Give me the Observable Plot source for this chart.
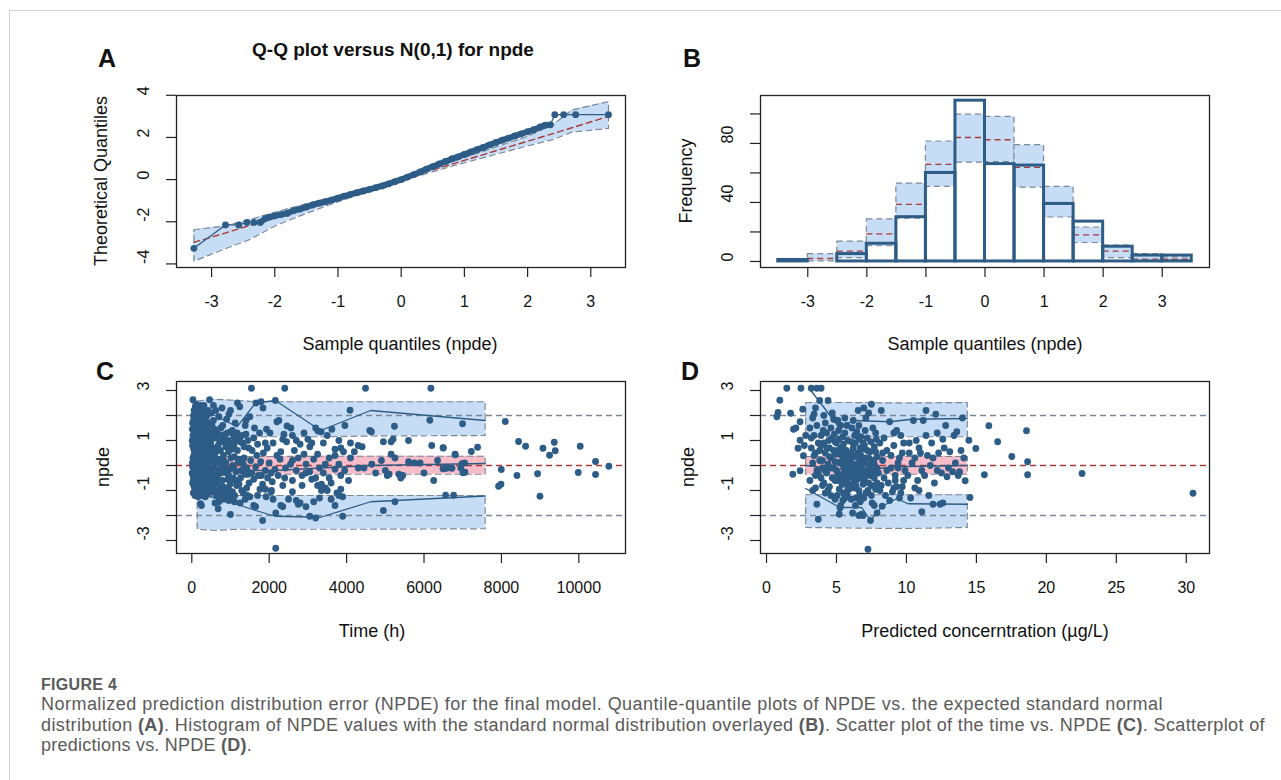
<!DOCTYPE html>
<html><head><meta charset="utf-8">
<script src="https://cdn.jsdelivr.net/npm/d3@7"></script>
<script src="https://cdn.jsdelivr.net/npm/@observablehq/plot@0.6"></script>
<style>
body{margin:0;background:#fff;}
#page{position:relative;width:1281px;height:780px;overflow:hidden;background:#fff;font-family:"Liberation Sans",Arial,Helvetica,sans-serif;color:#111;}
.abs{position:absolute;white-space:nowrap;}
.c{transform:translate(-50%,-50%);}
.rot{transform:translate(-50%,-50%) rotate(-90deg);}
.letter{font-weight:700;font-size:25px;}
.atitle{font-size:18px;}
.cap{font-family:"Liberation Sans",Arial,sans-serif;color:#5a5a5a;font-size:18px;line-height:normal;}
</style></head><body><div id="page"></div>
<script>
// ---------- Panel A: Q-Q plot ----------
const qqSample = [-3.28,-2.78,-2.57,-2.44,-2.33,-2.23,-2.15,-2.08,-2.0,-1.9,-1.8,-1.7,-1.6,-1.5,-1.4,-1.3,-1.2,-1.1,-1.0,-0.9,-0.8,-0.7,-0.6,-0.5,-0.4,-0.3,-0.2,-0.1,0,0.1,0.2,0.3,0.4,0.5,0.6,0.7,0.8,0.9,1.0,1.1,1.2,1.3,1.4,1.5,1.6,1.7,1.8,1.9,2.0,2.1,2.2,2.28,2.36,2.43,2.57,2.76,3.28];
const qqNpde   = [-3.26,-2.15,-2.15,-2.03,-2.03,-2.03,-1.85,-1.78,-1.72,-1.66,-1.6,-1.47,-1.4,-1.3,-1.2,-1.12,-1.05,-0.97,-0.88,-0.78,-0.7,-0.62,-0.54,-0.46,-0.38,-0.3,-0.2,-0.1,0.0,0.12,0.24,0.36,0.5,0.62,0.74,0.86,0.98,1.08,1.2,1.31,1.42,1.53,1.65,1.76,1.87,1.97,2.07,2.17,2.27,2.37,2.5,2.58,2.6,3.08,3.08,3.08,3.08];
const qqBandX  = [-3.28,-2.8,-2.4,-2.0,-1.5,-1.0,-0.5,0,0.5,1.0,1.5,2.0,2.4,2.7,3.28];
const qqBandLo = [-3.87,-3.3,-2.85,-2.2,-1.6,-1.05,-0.55,-0.07,0.38,0.8,1.2,1.6,1.9,2.25,2.43];
const qqBandMd = [-2.98,-2.55,-2.18,-1.82,-1.37,-0.91,-0.46,0,0.46,0.91,1.37,1.82,2.18,2.46,3.0];
const qqBandHi = [-2.38,-2.2,-1.9,-1.55,-1.15,-0.76,-0.37,0.07,0.55,1.04,1.55,2.05,2.6,3.3,3.7];

// ---------- Panel B: histogram ----------
const histStart = [-3.5,-3,-2.5,-2,-1.5,-1,-0.5,0,0.5,1,1.5,2,2.5,3];
const histObs   = [1,0,5,12,30,60,109,66,65,39,27,10,4,4];
const histLo    = [0,0,2.3,10.3,29,50.6,67,67.4,50,29.8,12.5,2.3,0,0.5];
const histMed   = [0.5,2,7,18.7,38.7,65.8,84,82.5,63.8,39,18,7,1.6,1.5];
const histHi    = [1,5,13.4,28.5,52.8,81.3,99.5,98,78.8,50.6,23,10.7,5,2.7];

// ---------- Panel C: npde vs time ----------
const cLineX  = [140,600,1170,1650,2160,3330,4620,7580];
const cObsUp  = [2.3,2.0,1.55,2.5,2.6,1.4,2.2,1.8];
const cObsMed = [0.05,-0.1,-0.2,-0.2,-0.2,-0.1,0.0,0.08];
const cObsLow = [-1.1,-1.3,-1.55,-1.8,-2.03,-2.07,-1.45,-1.22];
const cUpHi   = [2.58,2.65,2.6,2.55,2.55,2.55,2.55,2.55];
const cUpLo   = [1.15,1.2,1.15,1.15,1.15,1.15,1.18,1.2];
const cMedHi  = [0.35,0.36,0.36,0.36,0.36,0.37,0.37,0.37];
const cMedLo  = [-0.35,-0.35,-0.35,-0.35,-0.35,-0.35,-0.35,-0.35];
const cLowHi  = [-1.15,-1.2,-1.2,-1.2,-1.2,-1.2,-1.2,-1.2];
const cLowLo  = [-2.55,-2.6,-2.55,-2.55,-2.55,-2.55,-2.55,-2.53];
const scatterC = [
[30,2.63],[60,2.2],[90,2.35],[110,2.45],[140,2.1],[160,2.3],[190,2.2],[220,2.4],[250,2.0],[300,2.1],[350,1.9],[460,2.63],[420,2.2],[380,1.95],
[20,1.7],[50,1.85],[80,1.5],[120,1.65],[150,1.8],[180,1.4],[210,1.6],[240,1.75],[280,1.5],[320,1.3],[360,1.6],[400,1.45],[440,1.7],
[30,1.2],[60,1.35],[90,1.1],[120,1.25],[150,0.95],[180,1.15],[210,1.3],[240,1.05],[270,1.2],[300,0.9],[340,1.1],[380,1.25],[420,0.95],[470,1.15],
[20,0.8],[50,0.65],[80,0.9],[110,0.75],[140,0.55],[170,0.85],[200,0.7],[230,0.5],[260,0.8],[290,0.6],[330,0.75],[370,0.45],[410,0.65],[450,0.85],
[30,0.3],[60,0.45],[90,0.2],[120,0.35],[150,0.15],[180,0.4],[210,0.25],[240,0.05],[270,0.3],[310,0.15],[350,0.35],[390,0.1],[430,0.25],[470,0.4],
[20,-0.05],[50,0.0],[80,-0.15],[110,0.05],[140,-0.2],[170,-0.1],[200,0.0],[230,-0.25],[260,-0.05],[300,-0.3],[340,-0.1],[380,-0.2],[420,0.0],[460,-0.15],
[30,-0.4],[60,-0.35],[90,-0.5],[120,-0.3],[150,-0.55],[180,-0.45],[210,-0.6],[240,-0.4],[280,-0.5],[320,-0.65],[360,-0.4],[400,-0.55],[440,-0.35],
[20,-0.7],[50,-0.8],[80,-0.65],[110,-0.9],[140,-0.75],[170,-0.95],[200,-0.8],[230,-0.7],[260,-1.0],[300,-0.85],[340,-0.95],[380,-0.75],[420,-0.9],[460,-1.05],
[40,-1.1],[80,-1.2],[120,-1.05],[160,-1.25],[200,-1.15],[250,-1.2],[300,-1.1],[350,-1.25],[400,-1.15],
[10,1.0],[40,0.9],[70,0.7],[100,0.55],[130,0.4],[160,0.2],[190,0.1],[220,-0.1],[250,-0.3],[280,-0.45],[310,-0.6],[340,-0.8],[370,-0.95],[400,-1.05],[430,-0.7],[460,-0.5],[490,-0.25],
[10,-0.3],[40,-0.6],[70,-0.9],[100,-1.1],[130,0.1],[160,0.6],[190,0.95],[220,1.4],[250,1.55],[280,1.85],[310,1.7],[340,1.45],[370,1.05],[400,0.8],[430,0.5],[460,0.6],[490,0.9],
[15,1.45],[45,2.0],[75,1.95],[105,2.15],[135,1.3],[165,1.05],[195,1.9],[225,2.25],[255,2.3],[285,2.05],[315,2.4],
[15,0.1],[45,0.25],[75,-0.3],[105,-0.55],[135,-0.95],[165,-1.1],[195,-0.35],[225,0.15],[255,0.55],[285,0.15],[315,-0.15],[345,0.55],[375,0.2],[405,0.35],[435,-0.5],[465,-0.8],[495,-1.0],
[225,-1.53],[250,-1.6],[681,-1.73],[999,-1.96],
[500,2.1],[560,1.8],[620,2.2],[700,1.95],[800,1.6],[900,1.85],[960,2.05],[1050,1.4],[1120,1.7],
[520,1.3],[600,1.1],[650,1.4],[720,0.95],[780,1.2],[850,1.05],[920,1.3],[1000,0.9],[1080,1.15],[1150,1.0],
[540,0.7],[610,0.5],[680,0.8],[740,0.6],[820,0.4],[880,0.75],[950,0.55],[1030,0.65],[1100,0.35],[1180,0.6],
[500,0.2],[580,-0.05],[640,0.1],[700,-0.2],[760,0.05],[840,-0.1],[900,-0.3],[980,-0.15],[1060,0.0],[1140,-0.25],
[530,-0.5],[590,-0.7],[660,-0.45],[720,-0.85],[790,-0.6],[860,-0.9],[930,-0.55],[990,-0.75],[1070,-0.5],[1160,-0.8],
[560,-1.05],[640,-1.2],[750,-1.1],[830,-1.25],[910,-1.15],[1020,-1.3],[1110,-1.2],
[520,1.6],[580,1.45],[640,0.7],[690,1.2],[750,1.5],[810,0.95],[870,1.25],[940,1.0],[1010,1.35],[1090,0.8],[1170,1.3],[1230,1.05],[1310,0.9],[1400,1.25],[1470,0.7],
[520,-0.25],[570,0.35],[630,-0.35],[690,0.25],[760,-0.3],[820,0.2],[880,0.1],[950,-0.4],[1010,0.3],[1090,-0.1],[1200,0.15],[1280,-0.2],[1350,0.3],[1450,-0.35],
[540,-0.85],[610,-1.0],[680,-0.6],[740,-1.3],[800,-0.85],[870,-1.1],[950,-0.95],[1050,-1.05],[1130,-0.6],[1220,-0.75],[1330,-1.1],[1420,-0.9],[1500,-1.25],
[600,-1.5],[700,-1.45],[820,-1.35],[950,-1.4],[1100,-1.45],[1250,-1.5],[1380,-1.35],
[560,2.4],[780,2.3],[1000,2.2],[1180,2.5],[1400,1.8],
[1240,2.35],[1541,3.09],[1660,2.5],[1790,2.55],[1840,2.3],[2160,2.6],[2402,3.09],[2250,1.8],[1500,1.95],[1380,1.6],[1620,1.5],[1930,1.45],[2020,1.3],[2200,1.75],[2380,1.25],[2460,1.58],[1300,1.2],
[1250,0.95],[1350,0.75],[1450,1.0],[1560,0.6],[1700,0.85],[1850,0.5],[1950,0.7],[2100,0.9],[2300,0.55],[2450,0.95],
[1230,0.25],[1330,0.05],[1420,-0.1],[1520,0.2],[1650,-0.05],[1780,0.15],[1900,-0.2],[2000,0.1],[2150,-0.15],[2280,0.25],[2420,-0.1],
[1260,-0.5],[1380,-0.35],[1480,-0.7],[1600,-0.55],[1720,-0.4],[1830,-0.75],[1960,-0.5],[2080,-0.65],[2230,-0.4],[2350,-0.8],
[1290,-1.0],[1440,-1.2],[1600,-1.6],[1650,-1.65],[1760,-0.95],[1830,-2.2],[1920,-1.25],[2060,-1.0],[2169,-1.9],[2300,-1.6],[2350,-1.65],[2169,-3.31],[2050,-1.05],
[1550,-0.3],[1680,0.4],[1800,-0.4],[1900,0.9],[2050,-0.3],[2200,0.4],[2400,-0.5],[2550,0.05],[2650,0.6],[2750,0.3],[2850,-0.8],[2950,-0.3],[3100,-0.55],[3250,0.45],[3450,0.05],[3600,-0.7],[3700,0.4],[3850,-0.4],[3950,-0.2],
[1700,-1.2],[1900,-0.95],[2100,-1.35],[2500,-1.35],[2600,-1.05],[2700,-1.4],[3150,-1.45],[3600,-1.35],[3700,-1.6],
[1600,1.1],[1750,1.3],[2350,1.05],[2600,1.2],[2900,1.3],[3050,0.75],[3400,0.9],[3800,1.0],
[2560,1.5],[2700,1.0],[2800,0.85],[2900,0.45],[3000,1.05],[3100,0.9],[3200,1.5],[3260,1.38],[3340,1.35],[3500,1.2],[3620,1.45],[3700,0.65],[3850,0.7],[3956,1.6],[3920,0.55],
[2600,0.2],[2700,-0.2],[2850,-0.4],[2950,0.05],[3050,-0.25],[3150,0.25],[3300,-0.1],[3400,-0.3],[3550,0.3],[3700,-0.15],[3800,0.05],
[2600,-0.6],[2750,-1.55],[2800,-1.5],[2950,-1.65],[3050,-2.03],[3200,-2.1],[3250,-0.8],[3300,-1.3],[3350,-1.0],[3450,-0.9],[3550,-0.5],[3750,-1.1],[3800,-1.2],[3850,-0.95],[3900,-1.25],[3900,-2.03],
[3200,-0.5],[3350,-0.75],[3500,-1.0],
[4089,2.21],[4489,3.09],[4600,1.4],[4640,1.35],[5236,1.57],[6151,1.81],[6178,3.09],[6996,1.67],[5200,1.05],[5150,0.95],[4950,0.95],[5600,1.0],[4100,0.9],[4300,0.8],[4400,0.75],
[4100,0.3],[4200,0.55],[4450,-0.1],[4650,0.05],[4750,-0.3],[4900,0.2],[5000,-0.2],[5150,0.45],[5250,0.3],[5350,-0.35],[5450,-0.4],[5600,0.15],[5750,0.1],[5900,0.1],[6000,-0.3],[6200,0.8],[6350,0.2],[6500,0.7],[6600,-0.1],[6800,0.45],[6950,-0.1],[7050,0.1],
[4050,-0.6],[4300,-0.1],[5100,-0.35],[5400,-0.5],[6250,-0.6],[4950,-1.8],[5250,-1.45],[5050,-0.4],
[6491,0.71],[6809,0.43],[7222,0.56],[7385,0.73],[6559,-0.11],[6723,-0.11],[6981,0.07],[7007,-0.29],[7059,-0.27],[6559,-1.19],[6765,-1.19],[6491,-0.13],
[8100,1.76],[8443,0.96],[8625,0.77],[9073,0.69],[9365,0.93],[9391,0.59],[9244,0.41],[10036,0.77],[10432,0.16],[10776,-0.03],[7997,-0.16],[8401,-0.4],[8934,-0.33],[9985,-0.28],[10432,-0.36],[7927,-0.83],[7988,-0.75],[8996,-1.23]
];

// ---------- Panel D: npde vs predicted concentration ----------
const dBandX  = [2.8,6,10,14.35];
const dUpHi   = [2.52,2.52,2.5,2.52];
const dUpLo   = [1.15,1.15,1.15,1.15];
const dMedHi  = [0.36,0.36,0.36,0.36];
const dMedLo  = [-0.35,-0.35,-0.35,-0.35];
const dLowHi  = [-1.17,-1.17,-1.17,-1.17];
const dLowLo  = [-2.48,-2.5,-2.52,-2.48];
const dUpX    = [3.0,4.0,5.2,6.2,8.8,10.4,14.35];
const dUpY    = [3.12,2.4,1.5,1.8,1.75,1.85,1.88];
const dMedX   = [2.8,5.2,7.0,9.0,14.35];
const dMedY   = [0.0,-0.15,-0.2,-0.05,0.0];
const dLowX   = [2.8,5.23,6.8,7.43,8.27,9.33,10.1,14.35];
const dLowY   = [-0.92,-1.68,-1.68,-2.19,-1.63,-1.32,-1.53,-1.55];
const scatterD = [
[0.74,1.95],[0.82,2.12],[0.95,2.61],[1.45,3.09],[1.72,2.09],[1.93,1.45],[1.88,-0.35],[2.4,-0.21],[2.46,3.09],[2.4,1.75],[2.59,2.25],[2.4,1.01],[2.25,0.69],[2.64,0.39],[2.1,1.5],[2.8,1.2],[2.7,0.8],
[3.2,3.09],[3.6,3.09],[3.9,3.09],[3.8,2.6],[3.5,2.3],[3.1,1.5],[3.3,1.9],[3.6,1.6],[3.4,1.2],[3.7,0.9],[3.2,0.7],[3.5,0.5],[3.9,0.8],[3.3,0.1],[3.6,-0.2],[3.8,0.2],[3.1,-0.6],[3.5,-0.9],[3.9,-0.5],[3.6,-1.55],[3.7,-2.15],[3.3,-1.0],
[3.4,0.4],[3.7,-0.3],[3.9,1.2],[3.2,1.1],[3.5,-0.4],[3.8,0.6],[4.0,-0.8],[3.4,2.05],
[4.1,2.0],[4.4,2.6],[4.2,1.7],[4.6,1.5],[4.8,1.85],[4.3,1.3],[4.7,1.1],[4.1,0.9],[4.5,0.7],[4.9,0.95],[4.2,0.5],[4.6,0.3],[4.0,0.2],[4.4,0.05],[4.8,-0.1],[4.3,-0.3],[4.7,-0.5],[4.1,-0.7],[4.5,-0.85],[4.9,-0.6],[4.2,-1.1],[4.6,-1.2],[4.9,-1.35],[4.4,-1.0],[4.0,-0.1],[4.9,0.45],
[5.1,1.8],[5.3,1.6],[5.6,1.3],[5.2,1.05],[5.5,0.85],[5.8,1.0],[5.1,0.6],[5.4,0.4],[5.7,0.6],[5.9,0.3],[5.2,0.1],[5.5,-0.05],[5.8,0.05],[5.0,-0.2],[5.3,-0.35],[5.6,-0.25],[5.9,-0.45],[5.1,-0.6],[5.4,-0.75],[5.7,-0.65],[5.2,-0.95],[5.5,-1.1],[5.8,-0.9],[5.3,-1.6],[5.2,-1.95],[5.6,-1.3],[5.5,0.2],[5.6,-0.1],[5.7,-0.4],[5.8,0.4],[5.95,-0.2],[5.35,0.15],
[6.1,1.5],[6.3,1.2],[6.6,1.05],[6.9,0.9],[6.2,0.7],[6.5,0.5],[6.8,0.65],[6.0,0.2],[6.3,0.35],[6.6,0.1],[6.9,0.25],[6.1,-0.1],[6.4,-0.2],[6.7,-0.05],[6.2,-0.4],[6.5,-0.55],[6.8,-0.3],[6.0,-0.8],[6.3,-0.9],[6.6,-1.0],[6.9,-0.75],[6.4,-1.3],[6.7,-1.45],[6.8,-1.95],[6.6,-2.0],[6.9,-2.0],[6.15,-0.15],[6.45,0.05],[6.55,-0.3],[6.75,0.4],[6.25,-0.6],[6.85,-0.15],[6.35,0.9],[6.95,2.3],[6.55,2.2],
[4.2,-0.2],[4.5,0.35],[4.8,0.6],[5.0,0.9],[5.2,0.45],[5.4,-0.5],[5.6,0.6],[5.8,-0.7],[6.0,0.5],[6.2,0.05],[6.4,-0.8],[6.6,0.35],[6.8,-0.5],[7.0,0.1],[7.2,0.6],[7.4,-0.4],[7.6,-0.1],[7.8,0.55],
[4.3,0.7],[4.6,-0.1],[4.9,0.15],[5.1,-0.35],[5.3,0.7],[5.5,-0.45],[5.7,0.1],[5.9,-0.95],[6.1,0.45],[6.3,-0.5],[6.5,-0.1],[6.7,0.7],[6.9,-0.45],[7.1,-0.4],[7.3,0.3],[7.5,-0.8],[7.7,0.05],[7.9,-0.7],
[5.05,-1.2],[5.45,-1.4],[5.75,-1.15],[6.05,-1.35],[6.35,-1.6],[6.65,-1.2],[6.95,-1.3],[7.25,-1.0],[7.55,-1.5],[5.25,-1.7],[6.15,-1.9],
[4.05,1.4],[4.45,1.0],[4.85,1.25],[5.15,1.4],[5.45,1.15],[5.75,1.6],[6.05,0.95],[6.45,1.35],[6.75,1.15],[7.05,1.4],[7.45,0.95],[7.85,1.05],[6.2,1.8],[6.6,1.6],[5.6,1.9],[4.7,2.1],
[7.1,1.9],[7.3,2.1],[7.6,1.5],[7.5,2.45],[7.2,1.1],[7.8,1.3],[7.0,0.8],[7.4,0.55],[7.7,0.75],[7.1,0.3],[7.5,0.1],[7.9,0.35],[7.2,-0.2],[7.6,-0.3],[7.9,-0.1],[7.0,-0.6],[7.3,-0.7],[7.7,-0.5],[7.1,-1.1],[7.5,-1.2],[7.8,-0.95],[7.43,-2.2],[7.25,-3.35],[7.7,-1.6],[7.9,-1.9],[7.35,0.0],[7.65,0.2],
[8.2,2.2],[8.8,1.75],[9.3,1.4],[9.6,1.2],[8.1,0.9],[8.6,0.6],[9.1,0.8],[9.7,0.5],[8.3,0.2],[8.9,-0.1],[9.4,0.1],[9.9,-0.2],[8.4,-0.5],[8.7,-0.7],[9.2,-0.4],[9.8,-0.6],[8.1,-1.0],[8.5,-1.2],[9.0,-1.05],[9.5,-1.3],[8.27,-1.63],[9.1,-0.9],[9.6,-1.1],[8.0,-0.3],[9.3,-0.85],
[8.3,0.5],[8.6,-0.2],[8.9,0.4],[9.2,-0.6],[9.5,0.3],[9.8,0.9],[8.4,1.1],[8.8,-1.4],[9.1,1.3],[9.4,-0.1],[9.7,-0.85],[8.2,-0.8],
[10.5,1.8],[11.2,1.8],[11.4,2.2],[12.1,2.05],[12.8,1.6],[13.6,1.35],[14.0,1.9],[10.7,1.0],[11.8,0.9],[12.6,1.05],[10.2,0.5],[10.9,0.7],[11.5,0.4],[12.3,0.5],[13.1,0.55],[13.9,0.6],[10.4,0.1],[11.1,-0.2],[11.7,0.0],[12.5,-0.3],[13.3,-0.25],[13.8,-0.25],[10.1,-0.4],[10.8,-0.6],[12.0,-0.7],[12.9,-0.45],[10.3,-1.3],[11.6,-1.2],[11.1,-1.85],[11.9,-1.55],[12.4,-1.55],[12.6,-1.5],[10.6,-0.9],[13.5,0.1],[14.2,-0.61],[14.46,1.01],[14.96,0.68],[14.54,-1.28],[14.1,0.3],
[10.2,0.9],[10.6,0.3],[11.0,0.5],[11.3,-0.4],[11.9,0.3],[12.2,-0.2],[12.7,0.7],[13.0,-0.1],[13.4,1.2],[13.7,-0.4],[10.9,-1.0],[11.4,1.2],[12.2,1.3],
[15.57,-0.37],[15.89,1.59],[16.52,0.95],[17.53,0.36],[18.58,1.39],[18.66,0.15],[18.66,-0.37],[22.55,-0.32],[30.48,-1.11]
];

// ---------- ticks ----------
const aXTicks = [-3,-2,-1,0,1,2,3], aYTicks = [-4,-2,0,2,4];
const bXTicks = [-3,-2,-1,0,1,2,3], bYTicks = [0,20,40,60,80,100], bYLabels = [0,40,80];
const cXTicks = [0,2000,4000,6000,8000,10000], npdeTicks = [-3,-2,-1,0,1,2,3], npdeLabels = [-3,-1,1,3];
const dXTicks = [0,5,10,15,20,25,30];

// ---------- caption ----------
const captionHead = "FIGURE 4";
const captionLines = [
  "Normalized prediction distribution error (NPDE) for the final model. Quantile-quantile plots of NPDE vs. the expected standard normal",
  "distribution <b>(A)</b>. Histogram of NPDE values with the standard normal distribution overlayed <b>(B)</b>. Scatter plot of the time vs. NPDE <b>(C)</b>. Scatterplot of",
  "predictions vs. NPDE <b>(D)</b>."
];
const captionWidths = [1122, 1224, 211];

// ---------- styles ----------
const BLUE = "#2d5c86", BAND = "#c7dcf5", PINK = "#f8bdc8", RED = "#a83a3a", GRAY = "#7b8898", INK = "#222";
const DASH = "6,4";

const page = document.getElementById("page");
function addDiv(html, cls, x, y, extra) {
  const d = document.createElement("div");
  d.className = "abs " + cls;
  d.innerHTML = html;
  d.style.left = x + "px"; d.style.top = y + "px";
  if (extra) Object.assign(d.style, extra);
  page.appendChild(d);
  return d;
}
const PADL = 80, PADR = 12, PADT = 12, PADB = 50;
function panel(box, xDomain, yDomain, marks) {
  const [fl, ft, fr, fb] = box;
  const svg = Plot.plot({
    width: fr - fl + PADL + PADR, height: fb - ft + PADT + PADB,
    marginLeft: PADL, marginRight: PADR, marginTop: PADT, marginBottom: PADB,
    x: {domain: xDomain, axis: null}, y: {domain: yDomain, axis: null},
    style: {fontFamily: '"Liberation Sans", Arial, sans-serif', background: "transparent", overflow: "visible"},
    marks
  });
  svg.style.position = "absolute";
  svg.style.left = (fl - PADL) + "px";
  svg.style.top = (ft - PADT) + "px";
  page.appendChild(svg);
}
function axes(xt, xl, yt, yl) {
  return [
    Plot.axisX(xt, {anchor: "bottom", tickSize: 10, tickFormat: () => "", label: null, stroke: INK, strokeWidth: 1.2}),
    Plot.axisY(yt, {anchor: "left", tickSize: 10, tickFormat: () => "", label: null, stroke: INK, strokeWidth: 1.2}),
    Plot.text(xl, {x: d => d, text: d => String(d), frameAnchor: "bottom", dy: 39, fontSize: 16, fill: "#111"}),
    Plot.text(yl, {y: d => d, text: d => String(d), frameAnchor: "left", dx: -33, rotate: -90, fontSize: 16, fill: "#111"}),
    Plot.frame({stroke: INK, strokeWidth: 1.3})
  ];
}
function poly(xs, lo, hi) {
  const p = xs.map((x, i) => ({x, y: hi[i]}));
  for (let i = xs.length - 1; i >= 0; i--) p.push({x: xs[i], y: lo[i]});
  p.push({x: xs[0], y: hi[0]});
  return p;
}
function bandMarks(xs, lo, hi, fill) {
  const t = xs.map((x, i) => ({x, lo: lo[i], hi: hi[i]}));
  return [
    Plot.areaY(t, {x: "x", y1: "lo", y2: "hi", fill}),
    Plot.line(poly(xs, lo, hi), {x: "x", y: "y", stroke: GRAY, strokeWidth: 1.2, strokeDasharray: DASH})
  ];
}
const pts = (xs, ys) => xs.map((x, i) => ({x, y: ys[i]}));

// Panel boxes [left, top, right, bottom] in page pixels
const boxA = [176, 95, 625, 267], boxB = [760, 95, 1209, 267];
const boxC = [176, 381, 625, 553], boxD = [760, 381, 1209, 553];

// ----- A -----
const qqPts = pts(qqSample, qqNpde);
const qqDense = qqPts.filter(d => d.x > -2.3 && d.x < 2.4);
panel(boxA, [-3.555, 3.549], [-4.17, 3.99], [
  ...bandMarks(qqBandX, qqBandLo, qqBandHi, BAND),
  Plot.line(pts(qqBandX, qqBandMd), {x: "x", y: "y", stroke: RED, strokeWidth: 1.4, strokeDasharray: DASH}),
  Plot.line(qqPts, {x: "x", y: "y", stroke: BLUE, strokeWidth: 1.3}),
  Plot.line(qqDense, {x: "x", y: "y", stroke: BLUE, strokeWidth: 6, strokeLinecap: "round"}),
  Plot.dot(qqPts, {x: "x", y: "y", r: 3.4, fill: BLUE}),
  ...axes(aXTicks, aXTicks, aYTicks, aYTicks)
]);

// ----- B -----
const histTable = histStart.map((s, i) => ({x1: s, x2: s + 0.5, obs: histObs[i], lo: histLo[i], med: histMed[i], hi: histHi[i]}));
panel(boxB, [-3.8, 3.8], [-4.1, 112.5], [
  Plot.rect(histTable, {x1: "x1", x2: "x2", y1: "lo", y2: "hi", fill: BAND, stroke: GRAY, strokeWidth: 1.2, strokeDasharray: DASH}),
  Plot.ruleY(histTable, {y: "med", x1: "x1", x2: "x2", stroke: RED, strokeWidth: 1.4, strokeDasharray: DASH}),
  Plot.rect(histTable.filter(d => d.obs > 0), {x1: "x1", x2: "x2", y1: 0, y2: "obs", fill: "none", stroke: BLUE, strokeWidth: 3}),
  ...axes(bXTicks, bXTicks, bYTicks, bYLabels)
]);

// ----- C -----
panel(boxC, [-395, 11206], [-3.52, 3.36], [
  ...bandMarks(cLineX, cUpLo, cUpHi, BAND),
  ...bandMarks(cLineX, cMedLo, cMedHi, PINK),
  ...bandMarks(cLineX, cLowLo, cLowHi, BAND),
  Plot.ruleY([2, -2], {stroke: GRAY, strokeWidth: 1.3, strokeDasharray: DASH}),
  Plot.ruleY([0], {stroke: RED, strokeWidth: 1.4, strokeDasharray: DASH}),
  Plot.dot(scatterC, {x: d => d[0], y: d => d[1], r: 3.4, fill: BLUE}),
  Plot.line(pts(cLineX, cObsUp), {x: "x", y: "y", stroke: BLUE, strokeWidth: 1.3}),
  Plot.line(pts(cLineX, cObsMed), {x: "x", y: "y", stroke: BLUE, strokeWidth: 1.3}),
  Plot.line(pts(cLineX, cObsLow), {x: "x", y: "y", stroke: BLUE, strokeWidth: 1.3}),
  ...axes(cXTicks, cXTicks, npdeTicks, npdeLabels)
]);

// ----- D -----
panel(boxD, [-0.43, 31.66], [-3.52, 3.36], [
  ...bandMarks(dBandX, dUpLo, dUpHi, BAND),
  ...bandMarks(dBandX, dMedLo, dMedHi, PINK),
  ...bandMarks(dBandX, dLowLo, dLowHi, BAND),
  Plot.ruleY([2, -2], {stroke: GRAY, strokeWidth: 1.3, strokeDasharray: DASH}),
  Plot.ruleY([0], {stroke: RED, strokeWidth: 1.4, strokeDasharray: DASH}),
  Plot.dot(scatterD, {x: d => d[0], y: d => d[1], r: 3.4, fill: BLUE}),
  Plot.line(pts(dUpX, dUpY), {x: "x", y: "y", stroke: BLUE, strokeWidth: 1.3}),
  Plot.line(pts(dMedX, dMedY), {x: "x", y: "y", stroke: BLUE, strokeWidth: 1.3}),
  Plot.line(pts(dLowX, dLowY), {x: "x", y: "y", stroke: BLUE, strokeWidth: 1.3}),
  ...axes(dXTicks, dXTicks, npdeTicks, npdeLabels)
]);

// ----- texts -----
addDiv("", "", 9, 10, {width: "1400px", height: "900px", borderLeft: "1px solid #d4d4d4", borderTop: "1px solid #d4d4d4"});
addDiv("A", "letter c", 107, 58); addDiv("B", "letter c", 692, 58);
addDiv("C", "letter c", 105, 371); addDiv("D", "letter c", 690, 371);
addDiv("Q-Q plot versus N(0,1) for npde", "c", 393, 50, {fontWeight: "700", fontSize: "19px"});
addDiv("Theoretical Quantiles", "atitle rot", 101, 181);
addDiv("Frequency", "atitle rot", 686, 181);
addDiv("npde", "atitle rot", 103, 467);
addDiv("npde", "atitle rot", 688, 467);
addDiv("Sample quantiles (npde)", "atitle c", 400, 344);
addDiv("Sample quantiles (npde)", "atitle c", 985, 344);
addDiv("Time (h)", "atitle c", 372, 631);
addDiv("Predicted concerntration (µg/L)", "atitle c", 985, 631);
addDiv(captionHead, "cap", 41, 675.5, {fontWeight: "700", fontSize: "16px", letterSpacing: "0.3px"});
captionLines.forEach((html, i) => {
  const d = addDiv(html, "cap", 41, 694.2 + i * 20.5);
  const w = d.getBoundingClientRect().width;
  const n = d.textContent.length;
  d.style.letterSpacing = ((captionWidths[i] - w) / n).toFixed(3) + "px";
});
</script>
</body></html>
